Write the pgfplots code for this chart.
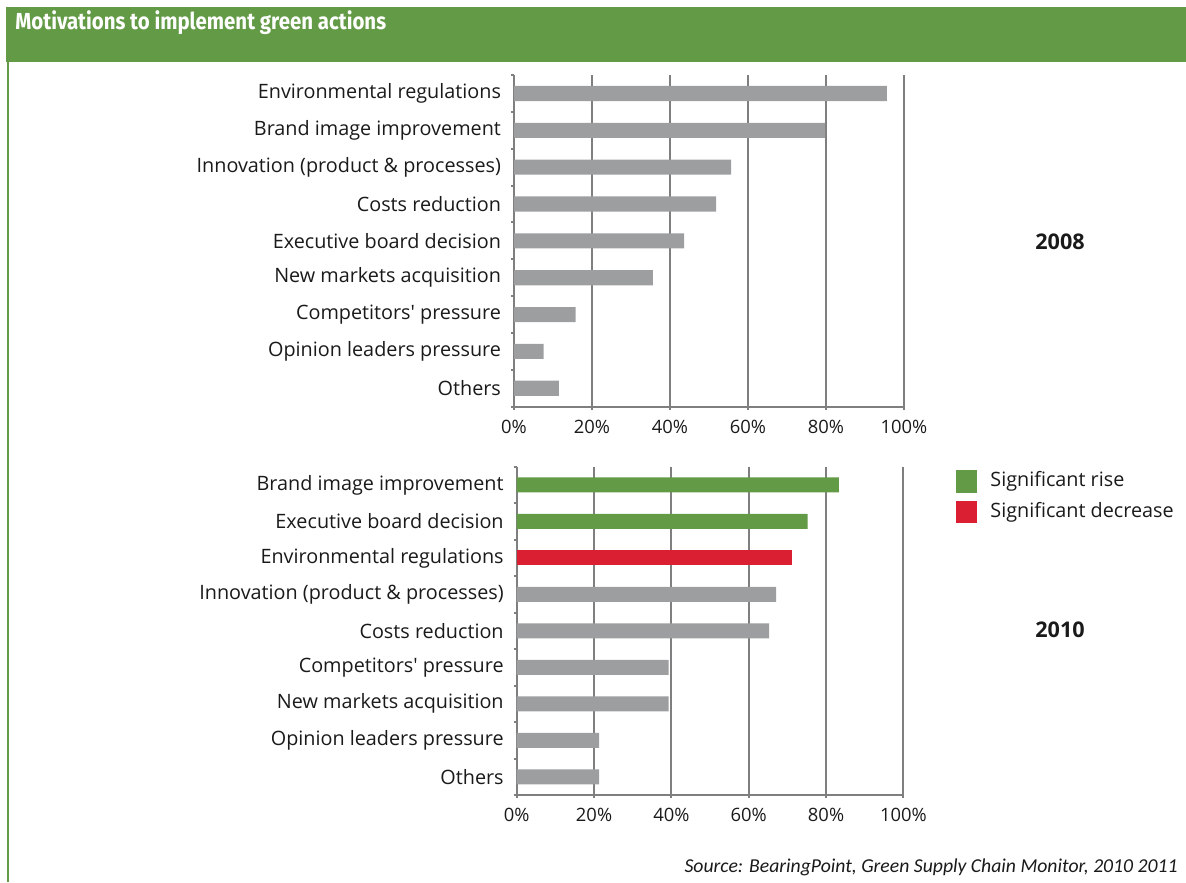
\documentclass[border=0pt]{standalone}
\usepackage{pgfplots}
\pgfplotsset{compat=1.18}
\usepackage{pgfplotstable}
\usepackage{fontspec}
\setmainfont{Open Sans}
\newfontfamily\titlefont[FakeStretch=0.88]{Fira Sans}
\newfontfamily\srcfont{Carlito}

\definecolor{hdrgreen}{HTML}{629A45}
\definecolor{bargray}{HTML}{9D9EA0}
\definecolor{risegreen}{HTML}{629A45}
\definecolor{fallred}{HTML}{DA1F33}
\definecolor{gridgray}{HTML}{7F7F7F}
\definecolor{txt}{HTML}{1A1A1A}

% 2008 survey, top to bottom
\pgfplotstableread{
pos val
0 95.6
1 79.8
2 55.7
3 51.8
4 43.6
5 35.6
6 15.8
7 7.6
8 11.5
}\yeareight

% 2010 survey, split by colour
\pgfplotstableread{
pos val
0 83.3
1 75.2
}\tenrise
\pgfplotstableread{
pos val
2 71.3
}\tenfall
\pgfplotstableread{
pos val
3 67.1
4 65.3
5 39.3
6 39.3
7 21.3
8 21.3
}\tenrest

\pgfplotsset{
  motiv/.style={
    scale only axis,
    xbar, bar shift=0pt, bar width=0.41,
    xmin=0, xmax=100,
    ymin=-0.5, ymax=8.5, y dir=reverse,
    xtick={0,20,...,100},
    xticklabel={\pgfmathprintnumber{\tick}\%},
    xmajorgrids, grid style={gridgray, line width=1pt},
    axis x line*=bottom, axis y line*=left,
    axis line style={gridgray, line width=1pt, -},
    tick align=outside,
    major tick length=1.5pt,
    x tick style={gridgray, line width=1pt},
    ytick={0,...,8},
    y tick style={draw=none},
    extra y ticks={-0.5,0.5,...,8.5},
    extra y tick labels={},
    extra y tick style={y tick style={gridgray, line width=1pt, draw=gridgray}},
    /pgf/number format/assume math mode=true,
    xticklabel style={font=\fontsize{9.2}{11}\selectfont, text=txt, yshift=-1.5pt},
    yticklabel style={font=\fontsize{9.9}{12}\selectfont, text=txt, xshift=-1.5pt},
  }
}

\begin{document}
\begin{tikzpicture}[x=0.5pt, y=-0.5pt]
\path[use as bounding box] (0,0) rectangle (1186,882);
% header band and frame
\fill[hdrgreen] (6,7) rectangle (1186,62);
\draw[hdrgreen, line width=1pt] (8,62) -- (8,882);
\node[anchor=west, text=white, inner sep=0pt] at (15,23)
  {\titlefont\bfseries\fontsize{11.6}{13}\selectfont Motivations to implement green actions};

\begin{axis}[motiv,
  at={(257pt,-203.35pt)}, anchor=south west,
  width=195pt, height=165.85pt,
  yticklabels={Environmental regulations, Brand image improvement,
    Innovation (product \& processes), Costs reduction,
    Executive board decision, New markets acquisition,
    Competitors\textquotesingle{} pressure, Opinion leaders pressure, Others},
]
  \addplot[fill=bargray, draw=none] table[x=val, y=pos] {\yeareight};
\end{axis}

\begin{axis}[motiv,
  at={(258.35pt,-397.5pt)}, anchor=south west,
  width=193.35pt, height=164.15pt,
  yticklabels={Brand image improvement, Executive board decision,
    Environmental regulations, Innovation (product \& processes),
    Costs reduction, Competitors\textquotesingle{} pressure, New markets acquisition,
    Opinion leaders pressure, Others},
]
  \addplot[fill=risegreen, draw=none] table[x=val, y=pos] {\tenrise};
  \addplot[fill=fallred, draw=none] table[x=val, y=pos] {\tenfall};
  \addplot[fill=bargray, draw=none] table[x=val, y=pos] {\tenrest};
\end{axis}

% year labels
\node[text=txt, font=\bfseries\fontsize{10.8}{12}\selectfont] at (1060,242) {2008};
\node[text=txt, font=\bfseries\fontsize{10.8}{12}\selectfont] at (1060,630) {2010};

% legend
\fill[risegreen] (956,470) rectangle (977,493);
\fill[fallred] (956,501) rectangle (977,523);
\node[anchor=west, inner sep=0pt, text=txt, font=\fontsize{9.9}{12}\selectfont] at (990,481) {Significant rise};
\node[anchor=west, inner sep=0pt, text=txt, font=\fontsize{9.9}{12}\selectfont] at (990,512) {Significant decrease};

% source
\node[anchor=east, inner sep=0pt, text=txt, font=\srcfont\itshape\fontsize{9.85}{11}\selectfont] at (1178,867)
  {Source: BearingPoint, Green Supply Chain Monitor, 2010 2011};
\end{tikzpicture}
\end{document}
